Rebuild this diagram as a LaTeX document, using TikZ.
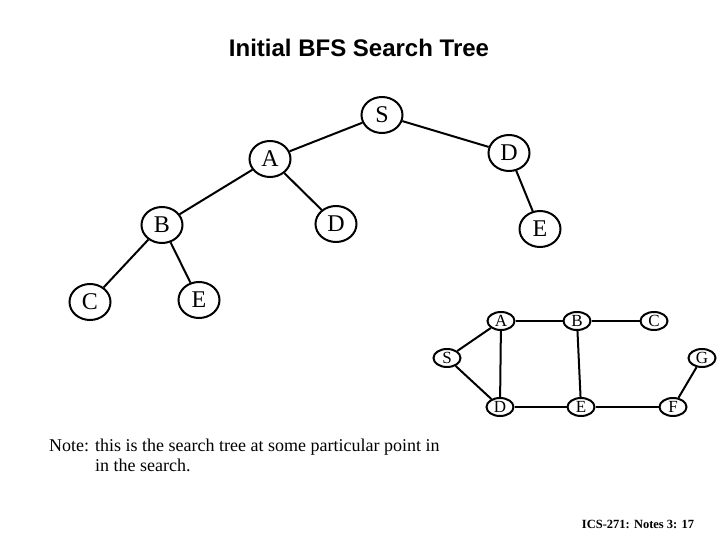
\documentclass[tikz,border=0pt]{standalone}
\usepackage{fontspec}
\setmainfont{Liberation Serif}
\newfontfamily\arialfont{Liberation Sans}
\usetikzlibrary{shapes.geometric}

\tikzset{
  treenode/.style={draw, ellipse, line width=2pt, minimum width=41pt,
    minimum height=36pt, inner sep=0pt, font=\fontsize{24}{26}\selectfont},
  mapnode/.style={draw, ellipse, line width=2pt, minimum width=27pt,
    minimum height=18pt, inner sep=0pt, font=\fontsize{17}{18}\selectfont},
  link/.style={line width=2pt}
}

\begin{document}
\begin{tikzpicture}[x=1pt,y=-1pt]
  \useasboundingbox (0,0) rectangle (720,540);

  \node[font=\arialfont\bfseries\fontsize{24}{28}\selectfont] (title) at (359,48)
    {Initial BFS Search Tree};

  % albero di ricerca
  \node[treenode] (tS)  at (382,115) {S};
  \node[treenode] (tA)  at (270,159) {A};
  \node[treenode] (tD1) at (509,153) {D};
  \node[treenode] (tB)  at (162,225) {B};
  \node[treenode] (tD2) at (336,224) {D};
  \node[treenode] (tE1) at (540,229) {E};
  \node[treenode] (tC)  at (90,302)  {C};
  \node[treenode] (tE2) at (199,300) {E};

  \draw[link] (tS) -- (tA);
  \draw[link] (tS) -- (tD1);
  \draw[link] (tA) -- (tB);
  \draw[link] (tA) -- (tD2);
  \draw[link] (tD1) -- (tE1);
  \draw[link] (tB) -- (tC);
  \draw[link] (tB) -- (tE2);

  % grafo di partenza
  \node[mapnode] (S) at (447,358) {S};
  \node[mapnode] (A) at (501,321) {A};
  \node[mapnode] (B) at (577,321) {B};
  \node[mapnode] (C) at (654,321) {C};
  \node[mapnode] (D) at (500,407) {D};
  \node[mapnode] (E) at (581,407) {E};
  \node[mapnode] (F) at (673,407) {F};
  \node[mapnode] (G) at (702,358) {G};

  \foreach \a/\b in {S/A,S/D,A/B,A/D,B/C,B/E,D/E,E/F,F/G}
    \draw[link] (\a) -- (\b);

  \node[anchor=north west, inner sep=0pt, font=\fontsize{18}{20}\selectfont] (note) at (49,437)
    {\begin{tabular}{@{}l@{ }l@{}}
      Note: & this is the search tree at some particular point in\\
            & in the search.
    \end{tabular}};

  \node[font=\bfseries\fontsize{12.5}{14}\selectfont] (footer) at (638,524)
    {ICS-271: Notes 3: 17};
\end{tikzpicture}
\end{document}
